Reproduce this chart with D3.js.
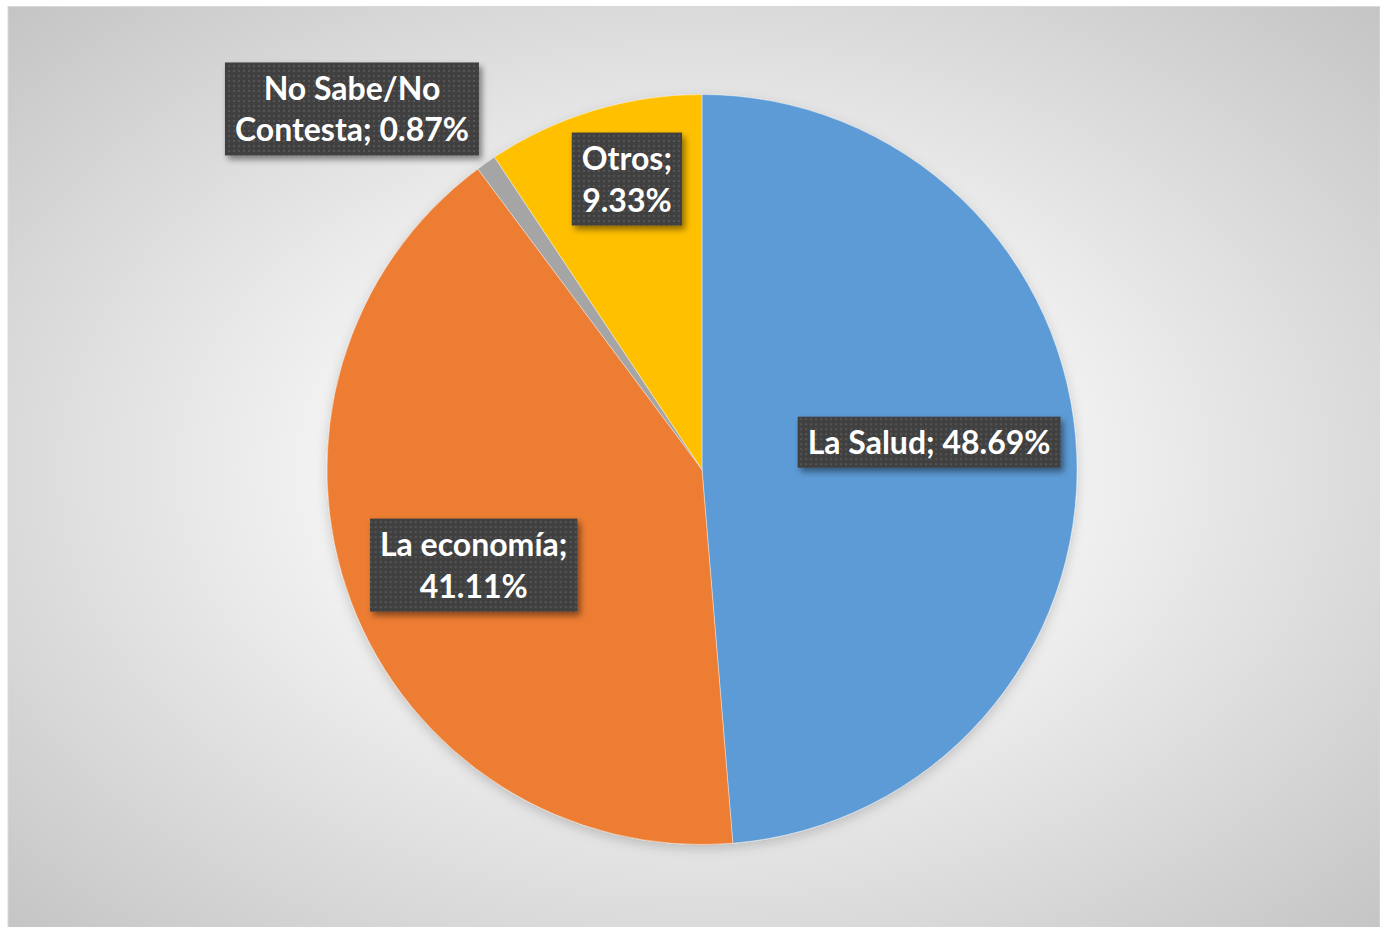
<!DOCTYPE html>
<html>
<head>
<meta charset="utf-8">
<script src="https://cdn.jsdelivr.net/npm/d3@7"></script>
<style>
  body { margin: 0; background: #fff; }
  svg { display: block; }
</style>
</head>
<body>
<svg id="pie-chart" width="1380" height="927"></svg>
<script>
const categories = ["La Salud", "La economía", "No Sabe/No Contesta", "Otros"];
const percents = [48.69, 41.11, 0.87, 9.33];
const labelLines = [
    ["La Salud; 48.69%"],
    ["La economía;", "41.11%"],
    ["No Sabe/No", "Contesta; 0.87%"],
    ["Otros;", "9.33%"]
];
const colors = ["#5B9BD5", "#ED7D31", "#A5A5A5", "#FFC000"];

// where each label sits: fraction of radius along the slice middle, plus an angle nudge (deg)
const labelPlace = [
    { r: 0.61, nudge: -4.5 },
    { r: 0.66, nudge: -2 },
    { r: 1.34, nudge: -9 },
    { r: 0.80, nudge: 2.3 }
];

const width = 1380;
const height = 927;
const svg = d3.select("#pie-chart");
const defs = svg.append("defs");

const bg = defs.append("radialGradient").attr("id", "bg")
    .attr("cx", "50%").attr("cy", "50%").attr("r", "72%");
bg.append("stop").attr("offset", "0%").attr("stop-color", "#ffffff");
bg.append("stop").attr("offset", "35%").attr("stop-color", "#f4f4f4");
bg.append("stop").attr("offset", "100%").attr("stop-color", "#c3c3c3");

const dots = defs.append("pattern").attr("id", "dots")
    .attr("width", 5).attr("height", 5).attr("patternUnits", "userSpaceOnUse");
dots.append("rect").attr("width", 5).attr("height", 5).attr("fill", "#404040");
dots.append("rect").attr("x", 1).attr("y", 1).attr("width", 2).attr("height", 2).attr("fill", "#555555");

const shadow = defs.append("filter").attr("id", "shadow")
    .attr("x", "-20%").attr("y", "-20%").attr("width", "140%").attr("height", "140%");
shadow.append("feDropShadow").attr("dx", 3).attr("dy", 4).attr("stdDeviation", 3)
    .attr("flood-color", "#000").attr("flood-opacity", 0.45);

const pieShadow = defs.append("filter").attr("id", "pieShadow")
    .attr("x", "-10%").attr("y", "-10%").attr("width", "120%").attr("height", "120%");
pieShadow.append("feDropShadow").attr("dx", 0).attr("dy", 4).attr("stdDeviation", 6)
    .attr("flood-color", "#000").attr("flood-opacity", 0.18);

svg.append("rect")
    .attr("x", 8).attr("y", 6.5).attr("width", width - 8).attr("height", height)
    .attr("fill", "url(#bg)").attr("stroke", "#d9d9d9").attr("stroke-width", 1);

const cx = 702, cy = 469.5;
const radius = 375;

const g = svg.append("g").attr("transform", "translate(" + cx + "," + cy + ")");

const pie = d3.pie().sort(null);
const arc = d3.arc().innerRadius(0).outerRadius(radius);
const arcsData = pie(percents);

g.append("g").attr("filter", "url(#pieShadow)")
    .selectAll("path")
    .data(arcsData)
    .enter()
    .append("path")
    .attr("d", arc)
    .attr("fill", (d, i) => colors[i])
    .attr("stroke", "#ffffff")
    .attr("stroke-opacity", 0.5)
    .attr("stroke-width", 0.75);

const lineH = 42;
const labels = g.selectAll("g.label")
    .data(arcsData)
    .enter()
    .append("g")
    .attr("class", "label")
    .attr("transform", (d, i) => {
        const a = (d.startAngle + d.endAngle) / 2 + labelPlace[i].nudge * Math.PI / 180;
        const r = radius * labelPlace[i].r;
        return "translate(" + (Math.sin(a) * r) + "," + (-Math.cos(a) * r) + ")";
    });

labels.each(function (d, i) {
    const lab = d3.select(this);
    const lines = labelLines[i];
    const box = lab.append("rect").attr("fill", "url(#dots)").attr("filter", "url(#shadow)");
    const text = lab.append("text")
        .attr("text-anchor", "middle")
        .attr("fill", "#ffffff")
        .style("font-family", "Lato, 'Open Sans', sans-serif")
        .style("font-weight", "bold")
        .style("font-size", "32px");
    lines.forEach((s, k) => {
        text.append("tspan")
            .attr("x", 0)
            .attr("y", (k - (lines.length - 1) / 2) * lineH)
            .attr("dy", "0.36em")
            .text(s);
    });
    const w = d3.max(text.selectAll("tspan").nodes(), n => n.getComputedTextLength());
    const h = lines.length * lineH + 9;
    box.attr("x", -w / 2 - 10).attr("y", -h / 2)
        .attr("width", w + 20).attr("height", h);
});
</script>
</body>
</html>
